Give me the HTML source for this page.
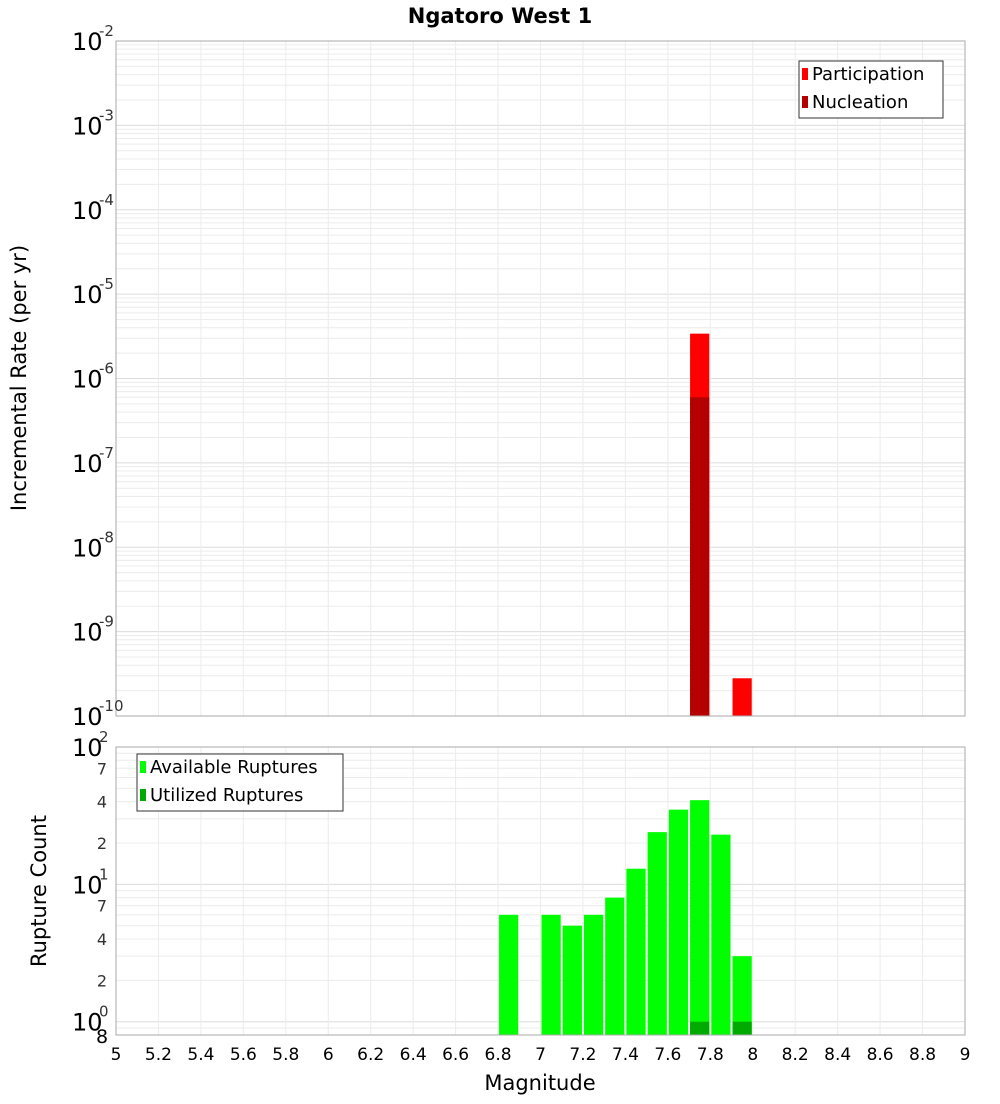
<!DOCTYPE html>
<html><head><meta charset="utf-8"><style>
body{margin:0;background:#fff;font-family:"DejaVu Sans","Liberation Sans",sans-serif}
svg text{font-family:"DejaVu Sans","Liberation Sans",sans-serif}
</style></head><body>
<svg id="chart" width="1000" height="1100" xmlns="http://www.w3.org/2000/svg">
<text x="500" y="23" text-anchor="middle" font-size="21" font-weight="bold">Ngatoro West 1</text>
<g id="topg"></g><g id="botg"></g>
<text x="540" y="1090" text-anchor="middle" font-size="21">Magnitude</text>
<text transform="translate(26,378) rotate(-90)" text-anchor="middle" font-size="21">Incremental Rate (per yr)</text>
<text transform="translate(46,891) rotate(-90)" text-anchor="middle" font-size="21">Rupture Count</text>
</svg>
<script>
const partMags=[7.75,7.95];
const partVals=[3.4e-6,2.8e-10];
const nuclMags=[7.75];
const nuclVals=[6e-7];
const availMags=[6.85,7.05,7.15,7.25,7.35,7.45,7.55,7.65,7.75,7.85,7.95];
const availVals=[6,6,5,6,8,13,24,35,41,23,3];
const utilMags=[7.75,7.95];
const utilVals=[1,1];
const xTicks=[5,5.2,5.4,5.6,5.8,6,6.2,6.4,6.6,6.8,7,7.2,7.4,7.6,7.8,8,8.2,8.4,8.6,8.8,9];
const binWidth=0.1;

const NS="http://www.w3.org/2000/svg";
const X0=116,X1=965;
const xs=m=>X0+(m-5)/4*(X1-X0);
function mk(p,tag,a){const e=document.createElementNS(NS,tag);for(const k in a)e.setAttribute(k,a[k]);p.appendChild(e);return e;}
const TP={y0:41,y1:716,lmin:-10,lmax:-2};
const BP={y0:747,y1:1035,lmin:Math.log10(0.8),lmax:2};
const ys=(P,v)=>P.y1-(Math.log10(v)-P.lmin)/(P.lmax-P.lmin)*(P.y1-P.y0);

function frame(g,P){
  for(let d=Math.floor(P.lmin);d<P.lmax;d++){for(let k=1;k<10;k++){const v=k*Math.pow(10,d);const l=Math.log10(v);if(l<P.lmin-1e-9||l>P.lmax+1e-9)continue;const y=ys(P,v);
    const ln=mk(g,'line',{x1:X0,x2:X1,y1:y,y2:y,stroke:k==1?'#dcdcdc':'#ececec','stroke-width':1});
    
    }}
  xTicks.forEach(t=>{const ln=mk(g,'line',{x1:xs(t),x2:xs(t),y1:P.y0,y2:P.y1,stroke:'#ececec'});
    
    });
}
function bars(g,P,mags,vals,col,name){
  mags.forEach((m,i)=>{const x=xs(m-binWidth/2)+1,w=xs(m+binWidth/2)-1-x;const y=ys(P,vals[i]);
    const r=mk(g,'rect',{x:x,y:y,width:w,height:P.y1-y,fill:col});
    
    });
}
function border(g,P){const r=mk(g,'rect',{x:X0,y:P.y0,width:X1-X0,height:P.y1-P.y0,fill:'none',stroke:'#aaa'});
  
  }
function major(g,P,d,exp){const y=ys(P,Math.pow(10,d));
  const t=mk(g,'text',{x:72,y:y+9,'font-size':24});t.textContent='10';
  
  
  const s=mk(g,'text',{x:99,y:y-5,'font-size':15,fill:'#333'});s.textContent=exp;
  
  }

const topG=document.getElementById('topg');
frame(topG,TP);
bars(topG,TP,partMags,partVals,'#ff0000','participation-bar');
bars(topG,TP,nuclMags,nuclVals,'#b40000','nucleation-bar');
border(topG,TP);
for(let d=-10;d<=-2;d++)major(topG,TP,d,String(d));

const botG=document.getElementById('botg');
frame(botG,BP);
bars(botG,BP,availMags,availVals,'#00ff00','available-bar');
bars(botG,BP,utilMags,utilVals,'#00aa00','utilized-bar');
border(botG,BP);
for(let d=0;d<=2;d++)major(botG,BP,d,String(d));
[[2,'2'],[4,'4'],[7,'7'],[20,'2'],[40,'4'],[70,'7']].forEach(([v,l])=>{const t=mk(botG,'text',{x:102,y:ys(BP,v)+6,'font-size':16,'text-anchor':'middle',fill:'#333'});t.textContent=l;
  
  });
{const t=mk(botG,'text',{x:102,y:1043,'font-size':19,'text-anchor':'middle'});t.textContent='8';

}

xTicks.forEach(v=>{const t=mk(document.getElementById('chart'),'text',{x:xs(v),y:1060,'font-size':17,'text-anchor':'middle'});t.textContent=String(v);
  
  });

function legend(g,x,y,w,items){const r=mk(g,'rect',{x:x,y:y,width:w,height:57,fill:'#fff',stroke:'#333'});
  
  
  items.forEach(([c,l],i)=>{const s=mk(g,'rect',{x:x+3,y:y+13+i*28-6,width:6,height:12,fill:c});
    
    
    const t=mk(g,'text',{x:x+13,y:y+19+i*28,'font-size':18});t.textContent=l;
    
    });}
legend(topG,799,61,144,[['#ff0000','Participation'],['#b40000','Nucleation']]);
legend(botG,137,754,206,[['#00ff00','Available Ruptures'],['#00aa00','Utilized Ruptures']]);
</script>
</body></html>
